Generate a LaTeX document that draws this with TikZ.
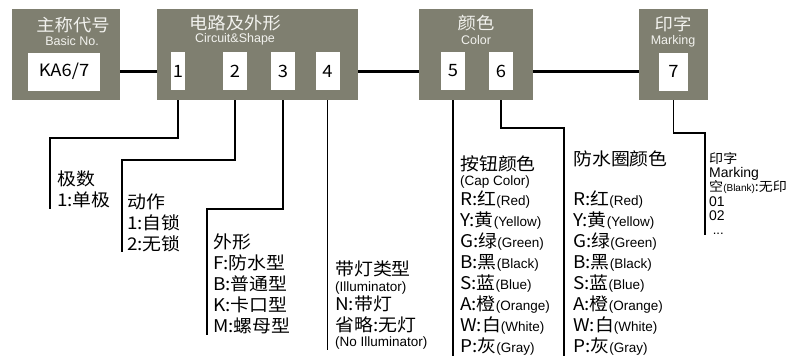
\documentclass[tikz,border=0pt]{standalone}
\usepackage{fontspec}
\setmainfont[FakeStretch=1.08]{Noto Sans CJK SC}
\newfontfamily\enfont{Liberation Sans}
\definecolor{boxgray}{RGB}{127,127,112}
\definecolor{headwhite}{RGB}{242,242,238}
\newcommand{\en}[1]{{\enfont\fontsize{13.5}{12}\selectfont #1}}

\tikzset{
  grp/.style={fill=boxgray, inner sep=0, minimum height=91},
  cell/.style={fill=white, inner sep=0, minimum height=38, font=\fontsize{17}{20}\selectfont},
  hd/.style={text=headwhite, inner sep=0, font=\fontsize{17}{20}\selectfont},
  sub/.style={text=headwhite, inner sep=0, font=\enfont\fontsize{12.5}{12}\selectfont},
  bus/.style={line width=3pt},
  wire/.style={line width=1.6pt},
  desc/.style={anchor=north west, inner sep=0, align=left, font=\fontsize{17.5}{21}\selectfont},
  printlist/.style={anchor=north west, inner sep=0, align=left, font=\fontsize{13}{14.3}\selectfont},
}

\begin{document}
\begin{tikzpicture}[x=1pt, y=-1pt]
  \useasboundingbox (0,0) rectangle (799,361);

  \node[grp, minimum width=108] (basic) at (66,54.5)  {};
  \node[grp, minimum width=201] (circ)  at (257.5,54.5) {};
  \node[grp, minimum width=114] (color) at (476,54.5) {};
  \node[grp, minimum width=69]  (print) at (673.5,54.5) {};

  \node[hd]  at (73,25.5)  {主称代号};
  \node[sub] at (72,41)    {Basic No.};
  \node[hd]  at (235,23.5) {电路及外形};
  \node[sub] at (235,39.5) {Circuit\&Shape};
  \node[hd]  at (476,23)   {颜色};
  \node[sub] at (476,40)   {Color};
  \node[hd]  at (673,23.5) {印字};
  \node[sub] at (673,41.5) {Marking};

  \node[cell, minimum width=72] (ka) at (64,71.5)  {KA6/7};
  \node[cell, minimum width=14] (c1) at (178,71)   {1};
  \node[cell, minimum width=24] (c2) at (235,71)   {2};
  \node[cell, minimum width=24] (c3) at (283,71)   {3};
  \node[cell, minimum width=24] (c4) at (327.5,71) {4};
  \node[cell, minimum width=24] (c5) at (453,71)   {5};
  \node[cell, minimum width=24] (c6) at (501,71)   {6};
  \node[cell, minimum width=29] (c7) at (673.5,71.5) {7};

  \draw[bus] (ka -| basic.east) -- (ka -| circ.west);
  \draw[bus] (ka -| circ.east)  -- (ka -| color.west);
  \draw[bus] (ka -| color.east) -- (ka -| print.west);

  \node[desc] (pole)  at (57,171)  {极数\\1:单极};
  \node[desc] (act)   at (127,194) {动作\\1:自锁\\2:无锁};
  \node[desc] (shape) at (213,234) {外形\\F:防水型\\B:普通型\\K:卡口型\\M:螺母型};
  \node[desc] (ill)   at (335,261) {带灯类型\\[-5pt]\en{(Illuminator)}\\[-2pt]N:带灯\\省略:无灯\\[-6pt]\en{(No Illuminator)}};
  \node[desc] (cap)   at (460,156) {按钮颜色\\[-6pt]\en{(Cap Color)}\\[-1pt]R:红\en{(Red)}\\Y:黄\en{(Yellow)}\\G:绿\en{(Green)}\\B:黑\en{(Black)}\\S:蓝\en{(Blue)}\\A:橙\en{(Orange)}\\W:白\en{(White)}\\P:灰\en{(Gray)}};
  \node[desc] (ring)  at (573,151) {防水圈颜色\\[19pt]R:红\en{(Red)}\\Y:黄\en{(Yellow)}\\G:绿\en{(Green)}\\B:黑\en{(Black)}\\S:蓝\en{(Blue)}\\A:橙\en{(Orange)}\\W:白\en{(White)}\\P:灰\en{(Gray)}};
  \node[printlist] (txt) at (709,152) {印字\\{\enfont\fontsize{14}{14.3}\selectfont Marking}\\空{\enfont\fontsize{10}{11}\selectfont(Blank)}:无印\\{\enfont\fontsize{14}{14.3}\selectfont 01}\\{\enfont\fontsize{14}{14.3}\selectfont 02}\\{\enfont\ ...}};

  \coordinate (k1) at (50,138);
  \coordinate (k2) at (122,160);
  \coordinate (k3) at (207,209);
  \coordinate (k6) at (564,128);
  \coordinate (k7) at (705,133);

  \draw[wire] (c1 |- circ.south) |- (k1) -- (k1 |- pole.south);
  \draw[wire] (c2 |- circ.south) |- (k2) -- (k2 |- act.south);
  \draw[wire] (c3 |- circ.south) |- (k3) -- (k3 |- shape.south);
  \draw[wire] (c4 |- circ.south) -- (c4 |- ill.south);
  \draw[wire] (c5 |- color.south) -- (c5 |- cap.south);
  \draw[wire] (c6 |- color.south) |- (k6) -- (k6 |- ring.south);
  \draw[wire] (c7 |- print.south) |- (k7) -- (k7 |- txt.south);
\end{tikzpicture}
\end{document}
